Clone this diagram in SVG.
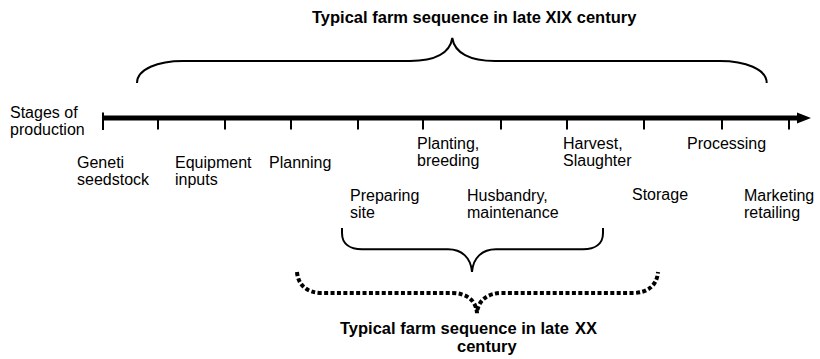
<svg xmlns="http://www.w3.org/2000/svg" width="820" height="359" viewBox="0 0 820 359">
<style>
text{font-family:"Liberation Sans",Arial,sans-serif;fill:#000}
.lbl{font-size:16px}
.ttl{font-size:16.5px;font-weight:bold}
.brace{fill:none;stroke:#000;stroke-width:2}
.dotted{fill:none;stroke:#000;stroke-width:4;stroke-dasharray:4 2.4}
.tick{stroke:#000;stroke-width:2}
</style>
<rect width="820" height="359" fill="#fff"/>
<g id="connectors">
  <line x1="103" y1="118" x2="800" y2="118" stroke="#000" stroke-width="5"/>
  <polygon points="797,112.5 811,118 797,123.5" fill="#000"/>
  <line class="tick" x1="103" y1="112.5" x2="103" y2="130"/>
  <line class="tick" x1="158" y1="118" x2="158" y2="129.5"/>
  <line class="tick" x1="225" y1="118" x2="225" y2="129.5"/>
  <line class="tick" x1="291" y1="118" x2="291" y2="129.5"/>
  <line class="tick" x1="358" y1="118" x2="358" y2="129.5"/>
  <line class="tick" x1="423" y1="118" x2="423" y2="129.5"/>
  <line class="tick" x1="501" y1="118" x2="501" y2="129.5"/>
  <line class="tick" x1="567" y1="118" x2="567" y2="129.5"/>
  <line class="tick" x1="644" y1="118" x2="644" y2="129.5"/>
  <line class="tick" x1="722" y1="118" x2="722" y2="129.5"/>
  <line class="tick" x1="789" y1="118" x2="789" y2="129.5"/>
  <path class="brace" d="M137,83 C137,69 158,61 183,61 L410,61 C435,61 450,53 452.3,38 C454.5,53 470,61 495,61 L720,61 C745,61 766.7,69 766.7,83"/>
  <path class="brace" d="M342,228 L342,233 C342,244 350,249.3 362,249.3 L448,249.3 C462,249.3 471,258 472,272 C473,258 482,249.3 496,249.3 L583,249.3 C595,249.3 603,244 603,233 L603,228"/>
  <path class="dotted" d="M297,272 C298,285 307,293 322,293 L452,293 C466,293 476,300 477,313 C478,300 488,293 502,293 L633,293 C648,293 657,285 658,272"/>
</g>
<g id="title-top"><text class="ttl" x="312" y="23">Typical farm sequence in late XIX century</text></g>
<g id="title-bottom">
  <text class="ttl" x="340" y="334">Typical farm sequence in late</text>
  <text class="ttl" x="575" y="334">XX</text>
  <text class="ttl" x="457" y="351.5">century</text>
</g>
<g id="stages"><text class="lbl" x="10" y="118">Stages of</text><text class="lbl" x="10" y="135">production</text></g>
<g id="genetic"><text class="lbl" x="77" y="168">Geneti</text><text class="lbl" x="77" y="185">seedstock</text></g>
<g id="equipment"><text class="lbl" x="175" y="168">Equipment</text><text class="lbl" x="175" y="185">inputs</text></g>
<g id="planning"><text class="lbl" x="269" y="168">Planning</text></g>
<g id="preparing"><text class="lbl" x="350" y="201">Preparing</text><text class="lbl" x="350" y="218">site</text></g>
<g id="planting"><text class="lbl" x="417" y="149">Planting,</text><text class="lbl" x="417" y="166">breeding</text></g>
<g id="husbandry"><text class="lbl" x="467" y="201">Husbandry,</text><text class="lbl" x="467" y="218">maintenance</text></g>
<g id="harvest"><text class="lbl" x="563" y="149">Harvest,</text><text class="lbl" x="563" y="166">Slaughter</text></g>
<g id="storage"><text class="lbl" x="632" y="200">Storage</text></g>
<g id="processing"><text class="lbl" x="687" y="149">Processing</text></g>
<g id="marketing"><text class="lbl" x="744" y="201">Marketing</text><text class="lbl" x="744" y="218">retailing</text></g>
</svg>
